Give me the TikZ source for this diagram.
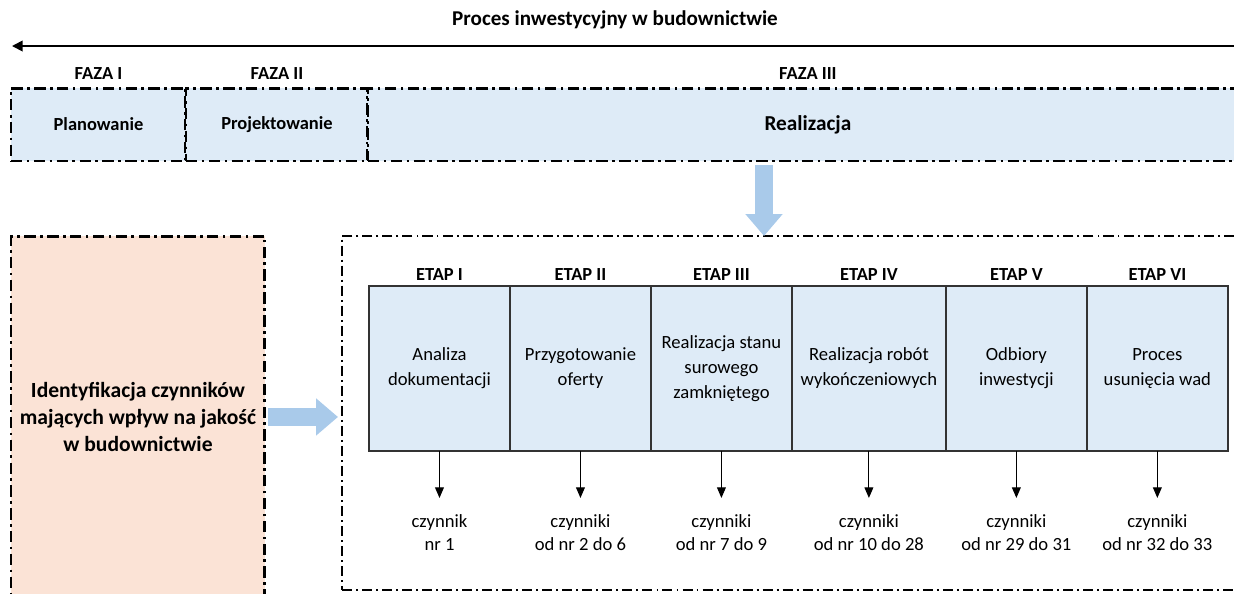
\documentclass[tikz,border=0pt]{standalone}
\usepackage{fontspec}
\setmainfont{Carlito}
\usetikzlibrary{arrows.meta,positioning}

\definecolor{fazablue}{HTML}{DEEBF7}
\definecolor{arrowblue}{HTML}{A9CAEA}
\definecolor{identpink}{HTML}{FBE3D6}

\tikzset{
  dashdot/.style={dash pattern=on 6.5pt off 2.5pt on 1.5pt off 2.5pt},
  fazabox/.style={draw, line width=1.7pt, dashdot, fill=fazablue, anchor=north west,
    minimum height=1.46cm, inner sep=0pt, outer sep=0pt, font=\fontsize{10.5}{13}\selectfont\bfseries},
  fazalabel/.style={font=\fontsize{10.5}{13}\selectfont\bfseries, inner sep=2pt},
  identbox/.style={draw, line width=1.7pt, dashdot, fill=identpink, anchor=north west,
    align=center, inner sep=0pt, outer sep=0pt, font=\fontsize{12.3}{15.3}\selectfont\bfseries},
  etapbox/.style={draw, line width=1.1pt, dash pattern=on 5.7pt off 2.3pt on 1.1pt off 2.3pt,
    anchor=north west, inner sep=0pt, outer sep=0pt},
  stagebox/.style={draw=black!80, line width=0.8pt, fill=fazablue, anchor=north west,
    minimum height=3.3cm, align=center, inner sep=0pt, outer sep=0pt, font=\fontsize{10.6}{14.2}\selectfont},
  etaplabel/.style={font=\fontsize{10.5}{13}\selectfont\bfseries, inner sep=3pt},
  czynnik/.style={align=center, inner xsep=2pt, inner ysep=9pt, font=\fontsize{10.6}{13.6}\selectfont},
  smallarrow/.style={-{Triangle[length=6pt,width=5pt]}, line width=0.6pt},
  bigarrow/.style={arrowblue, line width=0.36cm, -{Triangle[length=0.44cm,width=0.72cm]}}
}

\begin{document}
\begin{tikzpicture}[x=0.02cm, y=-0.02cm]
\clip (0,0) rectangle (1234,593);

% Title and direction
\node[font=\fontsize{12}{14}\selectfont\bfseries] (tytul) at (615,20) {Proces inwestycyjny w budownictwie};
\coordinate (procR) at (1240,46);
\coordinate (procL) at (12,46);
\draw[-{Triangle[length=6pt,width=6pt]}, line width=1pt] (procR) -- (procL);

% Phases
\node[fazabox, minimum width=3.5cm] (faza1) at (11,88) {Planowanie};
\node[fazabox, minimum width=3.64cm] (faza2) at (186,88) {Projektowanie};
\node[fazabox, minimum width=17.6cm, font=\fontsize{12.1}{14}\selectfont\bfseries] (faza3) at (368,88) {Realizacja};
\node[fazalabel, above=2.5pt of faza1] (f1) {FAZA I};
\node[fazalabel, above=2.5pt of faza2] (f2) {FAZA II};
\node[fazalabel, above=2.5pt of faza3] (f3) {FAZA III};

% Left box
\node[identbox, minimum width=5.08cm, minimum height=7.24cm] (ident) at (11,236)
  {Identyfikacja czynników\\mających wpływ na jakość\\w budownictwie};

% Stages frame
\node[etapbox, minimum width=18.4cm, minimum height=7.08cm] (etapy) at (342,236) {};

% Block arrows
\coordinate (realA) at (764,165);
\draw[bigarrow] (realA) -- (realA |- etapy.north);
\draw[bigarrow, shorten <=0.06cm, shorten >=0.08cm] (ident.east) -- (ident.east -| etapy.west);

% Stages
\node[stagebox, minimum width=2.82cm] (e1) at (369,286) {Analiza\\dokumentacji};
\node[stagebox, minimum width=2.82cm, right=0pt of e1] (e2) {Przygotowanie\\oferty};
\node[stagebox, minimum width=2.82cm, right=0pt of e2] (e3) {Realizacja stanu\\surowego\\zamkniętego};
\node[stagebox, minimum width=3.08cm, right=0pt of e3] (e4) {Realizacja robót\\wykończeniowych};
\node[stagebox, minimum width=2.82cm, right=0pt of e4] (e5) {Odbiory\\inwestycji};
\node[stagebox, minimum width=2.82cm, right=0pt of e5] (e6) {Proces\\usunięcia wad};

\node[etaplabel, above=0pt of e1] (t1) {ETAP I};
\node[etaplabel, above=0pt of e2] (t2) {ETAP II};
\node[etaplabel, above=0pt of e3] (t3) {ETAP III};
\node[etaplabel, above=0pt of e4] (t4) {ETAP IV};
\node[etaplabel, above=0pt of e5] (t5) {ETAP V};
\node[etaplabel, above=0pt of e6] (t6) {ETAP VI};

% Factors
\node[czynnik, below=0.94cm of e1] (c1) {czynnik\\nr 1};
\node[czynnik, below=0.94cm of e2] (c2) {czynniki\\od nr 2 do 6};
\node[czynnik, below=0.94cm of e3] (c3) {czynniki\\od nr 7 do 9};
\node[czynnik, below=0.94cm of e4] (c4) {czynniki\\od nr 10 do 28};
\node[czynnik, below=0.94cm of e5] (c5) {czynniki\\od nr 29 do 31};
\node[czynnik, below=0.94cm of e6] (c6) {czynniki\\od nr 32 do 33};

\draw[smallarrow] (e1) -- (c1);
\draw[smallarrow] (e2) -- (c2);
\draw[smallarrow] (e3) -- (c3);
\draw[smallarrow] (e4) -- (c4);
\draw[smallarrow] (e5) -- (c5);
\draw[smallarrow] (e6) -- (c6);
\end{tikzpicture}
\end{document}
